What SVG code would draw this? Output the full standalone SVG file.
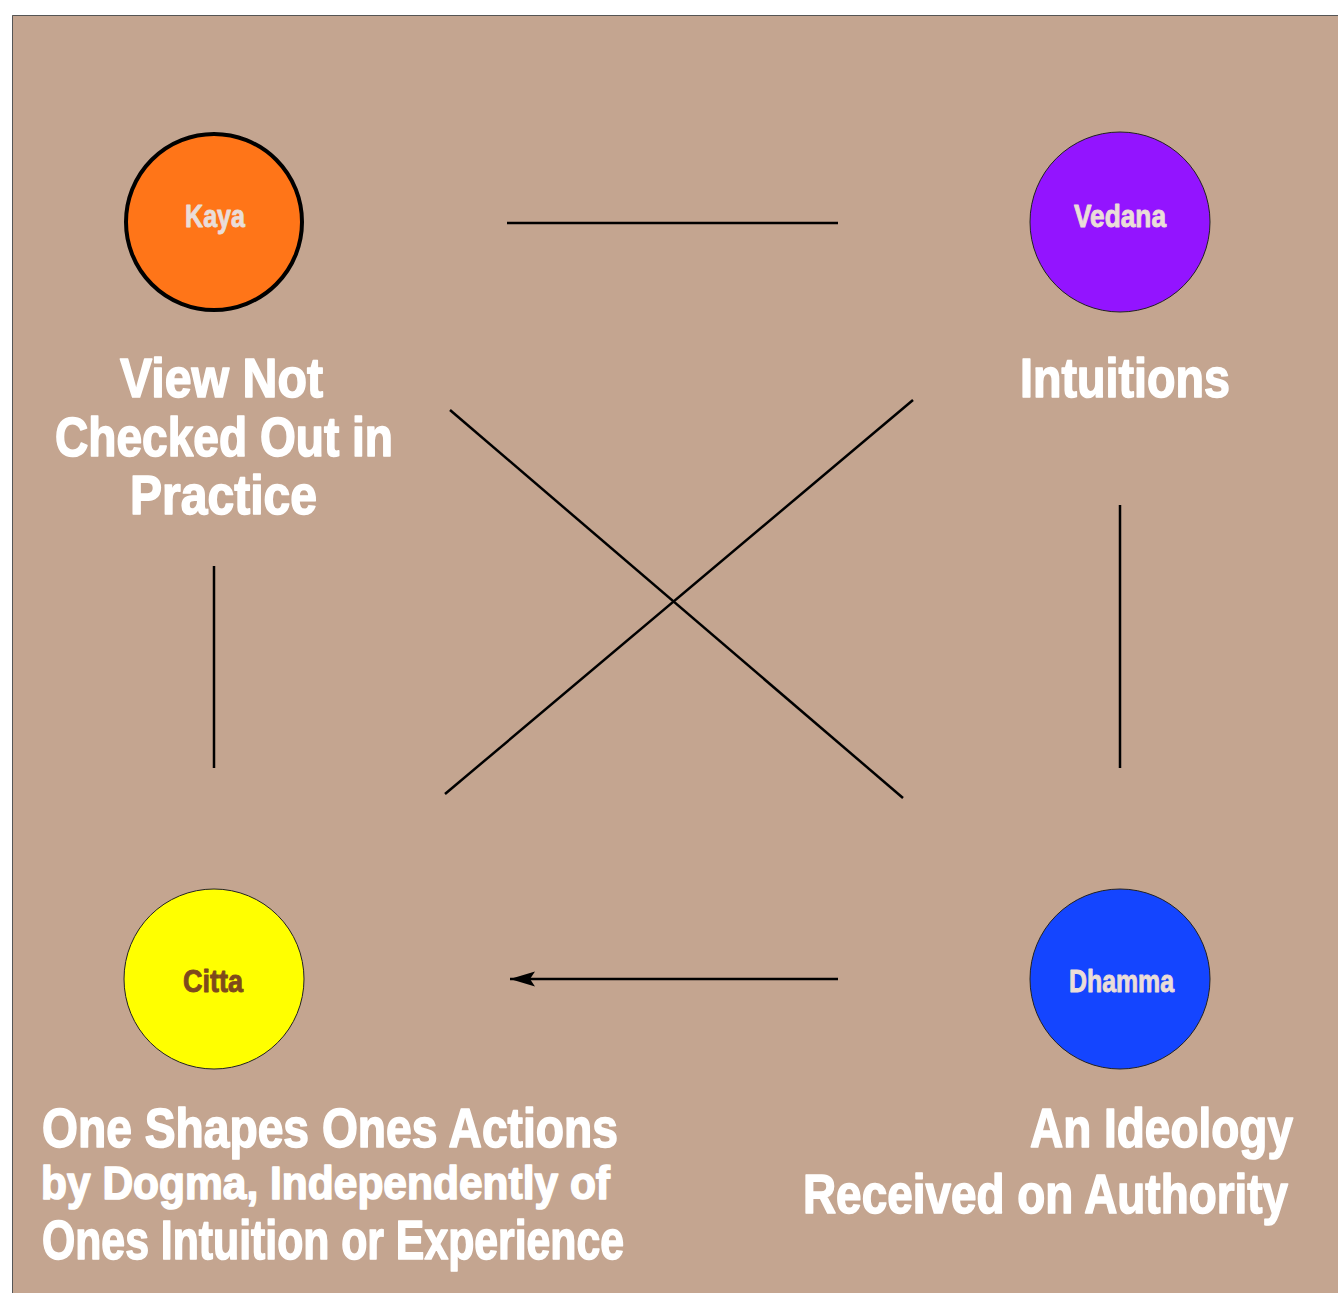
<svg xmlns="http://www.w3.org/2000/svg" width="1338" height="1293" viewBox="0 0 1338 1293">
<style>
.lbl{font-family:"Liberation Sans",Arial,sans-serif;font-weight:bold;fill:#ffffff;stroke:#ffffff;stroke-width:1.6;stroke-linejoin:round}
.cl{font-family:"Liberation Sans",Arial,sans-serif;font-weight:bold;font-size:31px;fill:#eaddd8;stroke:#eaddd8;stroke-width:0.9;stroke-linejoin:round}
.edge{stroke:#000;stroke-width:2.5;fill:none}
</style>
<defs>
<marker id="arr" markerUnits="userSpaceOnUse" markerWidth="28" markerHeight="18" refX="25" refY="9" orient="auto">
<path d="M0,1.5 L25,9 L0,16.5 L5,9 Z" fill="#000"/>
</marker>
</defs>
<rect x="0" y="0" width="1338" height="1293" fill="#ffffff"/>
<rect x="12" y="15" width="1326" height="1278" fill="#c4a590"/>
<path d="M12.5,1293 L12.5,15.5 L1338,15.5" fill="none" stroke="#555" stroke-width="1"/>
<g id="connectors">
<line class="edge" x1="507" y1="223" x2="838" y2="223"/>
<line class="edge" x1="214" y1="566" x2="214" y2="768"/>
<line class="edge" x1="1120" y1="505" x2="1120" y2="768"/>
<line class="edge" x1="450" y1="410" x2="903" y2="798"/>
<line class="edge" x1="913" y1="400" x2="445" y2="794"/>
<line class="edge" x1="838" y1="979" x2="510" y2="979" marker-end="url(#arr)"/>
</g>
<g id="kaya">
<circle cx="214" cy="222" r="88" fill="#ff7518" stroke="#000" stroke-width="4"/>
<text class="cl" x="185" y="227" textLength="60" lengthAdjust="spacingAndGlyphs">Kaya</text>
<text class="lbl" font-size="56" x="120" y="397" textLength="203" lengthAdjust="spacingAndGlyphs">View Not</text>
<text class="lbl" font-size="56" x="55" y="456" textLength="338" lengthAdjust="spacingAndGlyphs">Checked Out in</text>
<text class="lbl" font-size="56" x="130" y="514" textLength="187" lengthAdjust="spacingAndGlyphs">Practice</text>
</g>
<g id="vedana">
<circle cx="1120" cy="222" r="90" fill="#9314ff" stroke="#222" stroke-width="1"/>
<text class="cl" x="1074" y="227" textLength="92" lengthAdjust="spacingAndGlyphs">Vedana</text>
<text class="lbl" font-size="56" x="1020" y="397" textLength="210" lengthAdjust="spacingAndGlyphs">Intuitions</text>
</g>
<g id="citta">
<circle cx="214" cy="979" r="90" fill="#ffff00" stroke="#222" stroke-width="1"/>
<text class="cl" style="fill:#7e4a1c;stroke:#7e4a1c" x="183" y="992" textLength="60" lengthAdjust="spacingAndGlyphs">Citta</text>
<text class="lbl" font-size="56" x="42" y="1147" textLength="576" lengthAdjust="spacingAndGlyphs">One Shapes Ones Actions</text>
<text class="lbl" font-size="46" x="41" y="1199" textLength="569" lengthAdjust="spacingAndGlyphs">by Dogma, Independently of</text>
<text class="lbl" font-size="56" x="42" y="1259" textLength="582" lengthAdjust="spacingAndGlyphs">Ones Intuition or Experience</text>
</g>
<g id="dhamma">
<circle cx="1120" cy="979" r="90" fill="#1445ff" stroke="#222" stroke-width="1"/>
<text class="cl" x="1069" y="992" textLength="105" lengthAdjust="spacingAndGlyphs">Dhamma</text>
<text class="lbl" font-size="56" transform="translate(1030,1147) scale(0.82,1)" x="0" y="0" textLength="320.7" lengthAdjust="spacingAndGlyphs">An Ideology</text>
<text class="lbl" font-size="56" transform="translate(803,1213) scale(0.816,1)" x="0" y="0" textLength="594.4" lengthAdjust="spacingAndGlyphs">Received on Authority</text>
</g>
</svg>
